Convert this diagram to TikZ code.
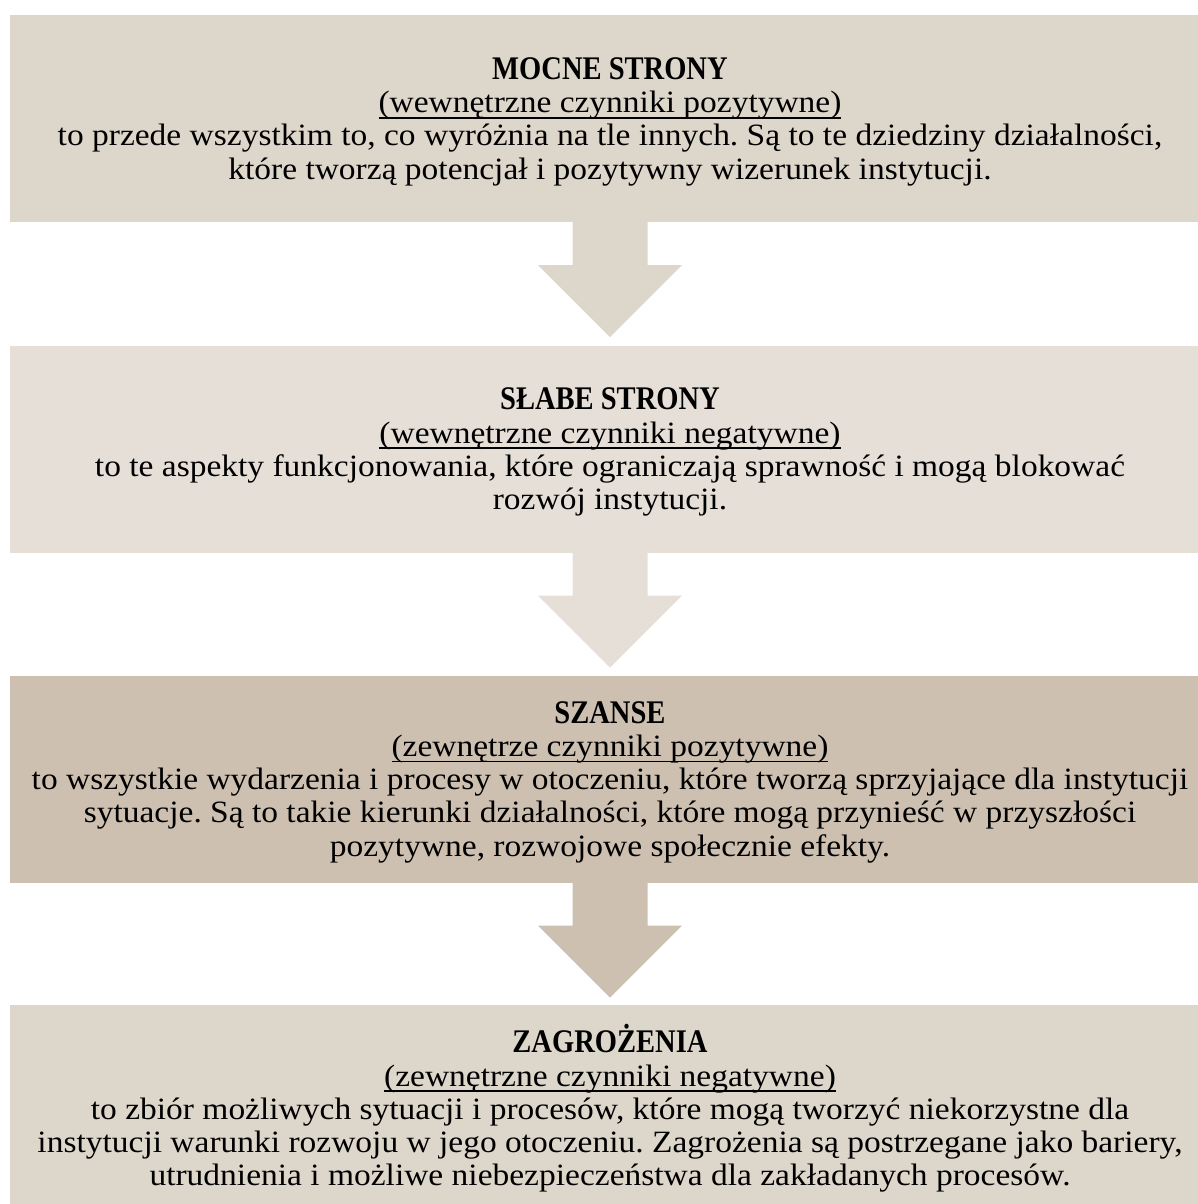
\documentclass[tikz,border=0pt]{standalone}
\usepackage{fontspec}
\setmainfont{Liberation Serif}[FakeStretch=1.08, BoldFeatures={FakeStretch=0.865}]
\usetikzlibrary{calc}
\definecolor{cA}{RGB}{221,214,203}
\definecolor{cB}{RGB}{229,223,215}
\definecolor{cC}{RGB}{205,192,176}
\tikzset{
  swotbox/.style={rectangle, inner sep=0pt, minimum width=1200pt, minimum height=207pt,
    align=center, text=black, font=\fontsize{31}{33.3}\selectfont\frenchspacing},
}
\newcommand{\arrowdown}[3]{%
  \fill[#3] ($(#1.south)+(-37.5pt,2pt)$) -- ($(#1.south)+(-37.5pt,-43pt)$)
    -- ($(#1.south)+(-72pt,-43pt)$) -- ($(#1.south)+(0pt,-115pt)$) -- ($(#1.south)+(72pt,-43pt)$)
    -- ($(#1.south)+(37.5pt,-43pt)$) -- ($(#1.south)+(37.5pt,2pt)$) -- cycle;}
\newcommand{\ul}[1]{\setbox0\hbox{#1}\rlap{\rule[-6pt]{\wd0}{1.6pt}}\box0}
\newcommand{\ttl}[1]{{\fontsize{33}{33.3}\selectfont\rule{0pt}{28pt}\textbf{#1}}}
\begin{document}
\begin{tikzpicture}[x=1pt,y=-1pt]
\useasboundingbox (0,0) rectangle (1198,1204);
\node[swotbox, fill=cA] (b1) at (610,118.5) {\ttl{MOCNE STRONY}\\\ul{(wewnętrzne czynniki pozytywne)}\\to przede wszystkim to, co wyróżnia na tle innych. Są to te dziedziny działalności,\\które tworzą potencjał i pozytywny wizerunek instytucji.};
\node[swotbox, fill=cB] (b2) at (610,449) {\ttl{SŁABE STRONY}\\\ul{(wewnętrzne czynniki negatywne)}\\to te aspekty funkcjonowania, które ograniczają sprawność i mogą blokować\\rozwój instytucji.};
\node[swotbox, fill=cC] (b3) at (610,779) {\ttl{SZANSE}\\\ul{(zewnętrze czynniki pozytywne)}\\to wszystkie wydarzenia i procesy w otoczeniu, które tworzą sprzyjające dla instytucji\\sytuacje. Są to takie kierunki działalności, które mogą przynieść w przyszłości\\pozytywne, rozwojowe społecznie efekty.};
\node[swotbox, fill=cA] (b4) at (610,1108.5) {\ttl{ZAGROŻENIA}\\\ul{(zewnętrzne czynniki negatywne)}\\to zbiór możliwych sytuacji i procesów, które mogą tworzyć niekorzystne dla\\instytucji warunki rozwoju w jego otoczeniu. Zagrożenia są postrzegane jako bariery,\\utrudnienia i możliwe niebezpieczeństwa dla zakładanych procesów.};
\arrowdown{b1}{b2}{cA}
\arrowdown{b2}{b3}{cB}
\arrowdown{b3}{b4}{cC}
\end{tikzpicture}
\end{document}
